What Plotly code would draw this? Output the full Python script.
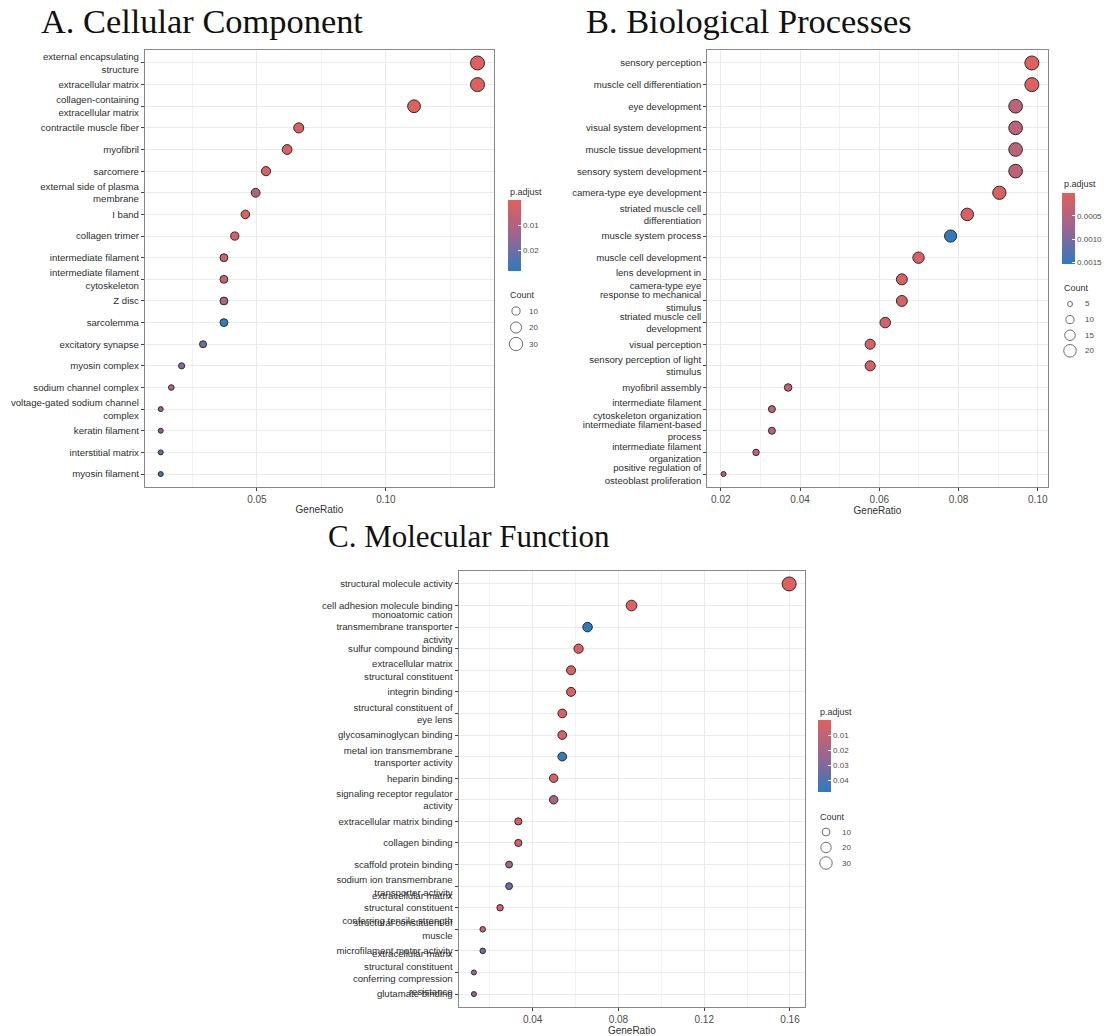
import numpy as np
import plotly.graph_objects as go

W, H = 1110, 1036

# ---------------- Data ----------------
# A. Cellular Component
cc_terms = [
    "external encapsulating<br>structure", "extracellular matrix",
    "collagen-containing<br>extracellular matrix", "contractile muscle fiber",
    "myofibril", "sarcomere", "external side of plasma<br>membrane", "I band",
    "collagen trimer", "intermediate filament", "intermediate filament<br>cytoskeleton",
    "Z disc", "sarcolemma", "excitatory synapse", "myosin complex",
    "sodium channel complex", "voltage-gated sodium channel<br>complex",
    "keratin filament", "interstitial matrix", "myosin filament"]
cc_ratio = [0.1355, 0.1355, 0.1109, 0.0662, 0.0617, 0.0535, 0.0495, 0.0455, 0.0414, 0.0372,
            0.0372, 0.0372, 0.0372, 0.0291, 0.0208, 0.0168, 0.0127, 0.0127, 0.0127, 0.0127]
cc_count = [33, 33, 27, 16, 15, 13, 12, 11, 10, 9, 9, 9, 9, 7, 5, 4, 3, 3, 3, 3]
cc_padj = [0.00001, 0.00001, 0.00002, 0.0008, 0.0010, 0.0015, 0.0105, 0.0012, 0.0025, 0.0030,
           0.0035, 0.0100, 0.0281, 0.0210, 0.0160, 0.0105, 0.0150, 0.0150, 0.0260, 0.0255]
cc_count_breaks = [10, 20, 30]
cc_padj_ticks = [0.01, 0.02]

# B. Biological Processes
bp_terms = [
    "sensory perception", "muscle cell differentiation", "eye development",
    "visual system development", "muscle tissue development", "sensory system development",
    "camera-type eye development", "striated muscle cell<br>differentiation",
    "muscle system process", "muscle cell development",
    "lens development in<br>camera-type eye", "response to mechanical<br>stimulus",
    "striated muscle cell<br>development", "visual perception",
    "sensory perception of light<br>stimulus", "myofibril assembly",
    "intermediate filament<br>cytoskeleton organization",
    "intermediate filament-based<br>process", "intermediate filament<br>organization",
    "positive regulation of<br>osteoblast proliferation"]
bp_ratio = [0.0985, 0.0985, 0.0944, 0.0944, 0.0944, 0.0944, 0.0903, 0.0822, 0.0780, 0.0699,
            0.0657, 0.0657, 0.0615, 0.0577, 0.0577, 0.0370, 0.0329, 0.0329, 0.0289, 0.0207]
bp_count = [24, 24, 23, 23, 23, 23, 22, 20, 19, 17, 16, 16, 15, 14, 14, 9, 8, 8, 7, 5]
bp_padj = [0.00001, 0.00002, 0.00040, 0.00040, 0.00040, 0.00040, 0.00010, 0.00008, 0.00153, 0.00008,
           0.00010, 0.00012, 0.00015, 0.00010, 0.00012, 0.00030, 0.00040, 0.00040, 0.00020, 0.00045]
bp_count_breaks = [5, 10, 15, 20]
bp_padj_ticks = [0.0005, 0.0010, 0.0015]

# C. Molecular Function
mf_terms = [
    "structural molecule activity", "cell adhesion molecule binding",
    "monoatomic cation<br>transmembrane transporter<br>activity", "sulfur compound binding",
    "extracellular matrix<br>structural constituent", "integrin binding",
    "structural constituent of<br>eye lens", "glycosaminoglycan binding",
    "metal ion transmembrane<br>transporter activity", "heparin binding",
    "signaling receptor regulator<br>activity", "extracellular matrix binding",
    "collagen binding", "scaffold protein binding",
    "sodium ion transmembrane<br>transporter activity",
    "extracellular matrix<br>structural constituent<br>conferring tensile strength",
    "structural constituent of<br>muscle", "microfilament motor activity",
    "extracellular matrix<br>structural constituent<br>conferring compression<br>resistance",
    "glutamate binding"]
mf_ratio = [0.1596, 0.0861, 0.0656, 0.0614, 0.0579, 0.0579, 0.0538, 0.0538, 0.0538, 0.0498,
            0.0498, 0.0333, 0.0333, 0.0290, 0.0290, 0.0248, 0.0167, 0.0167, 0.0126, 0.0126]
mf_count = [39, 21, 16, 15, 14, 14, 13, 13, 13, 12, 12, 8, 8, 7, 7, 6, 4, 4, 3, 3]
mf_padj = [0.000001, 0.0005, 0.0480, 0.0020, 0.0010, 0.0020, 0.0020, 0.0030, 0.0470, 0.0030,
           0.0200, 0.0040, 0.0040, 0.0200, 0.0350, 0.0020, 0.0060, 0.0340, 0.0240, 0.0240]
mf_count_breaks = [10, 20, 30]
mf_padj_ticks = [0.01, 0.02, 0.03, 0.04]

# ---------------- Styling helpers ----------------
FONT = "Liberation Sans, Arial, sans-serif"
SERIF = "Liberation Serif, Times New Roman, serif"
COLORSCALE = [[0.0, "#2E7BBF"], [0.5, "#9A6590"], [1.0, "#E0605E"]]


def fx(px):
    return px / W


def fy(py):
    return 1 - py / H


def dot_size(counts, lo, hi, dmin=5.0, dmax=14.0):
    s = np.sqrt(np.asarray(counts, float))
    return (dmin + (s - np.sqrt(lo)) / (np.sqrt(hi) - np.sqrt(lo)) * (dmax - dmin)).tolist()


fig = go.Figure()
layout = dict(
    width=W, height=H, margin=dict(l=0, r=0, t=0, b=0),
    paper_bgcolor="white", plot_bgcolor="white", showlegend=False,
    font=dict(family=FONT, color="#333333"),
    annotations=[],
)

panels = [
    dict(terms=cc_terms, ratio=cc_ratio, count=cc_count, padj=cc_padj, breaks=cc_count_breaks,
         ticks=cc_padj_ticks, tfmt="{:.2f}", xdom=(145, 494), ydom=(50, 487), xr=[0.0066, 0.1419],
         dtick=0.05, minor=0.025, cbx=508, cby=(200, 271), ptitle_y=192,
         ltitle_y=295, litem_y=311, lstep=16.5, lcx=516, llx=527),
    dict(terms=bp_terms, ratio=bp_ratio, count=bp_count, padj=bp_padj, breaks=bp_count_breaks,
         ticks=bp_padj_ticks, tfmt="{:.4f}", xdom=(707.3, 1047.7), ydom=(50, 487), xr=[0.0166, 0.1025],
         dtick=0.02, minor=0.01, cbx=1062, cby=(193, 264), ptitle_y=184,
         ltitle_y=288, litem_y=304, lstep=15.6, lcx=1070, llx=1083),
    dict(terms=mf_terms, ratio=mf_ratio, count=mf_count, padj=mf_padj, breaks=mf_count_breaks,
         ticks=mf_padj_ticks, tfmt="{:.2f}", xdom=(458.7, 805), ydom=(571, 1007), xr=[0.0055, 0.167],
         dtick=0.04, minor=0.02, cbx=818, cby=(720, 792), ptitle_y=712,
         ltitle_y=817, litem_y=832, lstep=15.5, lcx=826, llx=840),
]

for i, p in enumerate(panels, start=1):
    sfx = "" if i == 1 else str(i)
    lo, hi = min(p["count"]), max(p["count"])
    n = len(p["terms"])
    cax = "coloraxis" + sfx
    fig.add_trace(go.Scatter(
        x=p["ratio"], y=p["terms"], mode="markers", xaxis="x" + sfx, yaxis="y" + sfx,
        marker=dict(size=dot_size(p["count"], lo, hi), color=[-v for v in p["padj"]],
                    coloraxis=cax, line=dict(color="#2B2B2B", width=1), opacity=1),
    ))
    layout["xaxis" + sfx] = dict(
        domain=[fx(p["xdom"][0]), fx(p["xdom"][1])], range=p["xr"], anchor="y" + sfx,
        tick0=0, dtick=p["dtick"], tickformat=".2f", showgrid=True, gridcolor="#EBEBEB", gridwidth=1,
        minor=dict(tick0=0, dtick=p["minor"], showgrid=True, gridcolor="#F3F3F3", gridwidth=0.7),
        showline=True, mirror=True, linecolor="#888888", linewidth=1.3,
        ticks="outside", ticklen=3, tickcolor="#444444", tickwidth=1,
        tickfont=dict(size=10, color="#4D4D4D", family=FONT), zeroline=False,
        title=dict(text="GeneRatio", font=dict(size=10, color="#333333", family=FONT), standoff=1),
    )
    layout["yaxis" + sfx] = dict(
        domain=[fy(p["ydom"][1]), fy(p["ydom"][0])], anchor="x" + sfx, type="category",
        categoryorder="array", categoryarray=p["terms"], range=[n - 1 + 0.6, -0.6],
        showgrid=True, gridcolor="#EBEBEB", gridwidth=1,
        showline=True, mirror=True, linecolor="#888888", linewidth=1.3,
        ticks="outside", ticklen=3, tickcolor="#444444", tickwidth=1,
        tickfont=dict(size=9.6, color="#2E2E2E", family=FONT), zeroline=False,
    )
    pmin, pmax = min(p["padj"]), max(p["padj"])
    layout[cax] = dict(
        cmin=-pmax, cmax=-pmin, colorscale=COLORSCALE,
        colorbar=dict(
            x=fx(p["cbx"]), xanchor="left", y=fy((p["cby"][0] + p["cby"][1]) / 2), yanchor="middle",
            len=p["cby"][1] - p["cby"][0], lenmode="pixels", thickness=13, thicknessmode="pixels",
            outlinewidth=0, xpad=0, ypad=0, ticks="inside", ticklen=3, tickcolor="white", tickwidth=1,
            tickvals=[-t for t in p["ticks"]], ticktext=[p["tfmt"].format(t) for t in p["ticks"]],
            tickfont=dict(size=8, color="#4D4D4D", family=FONT),
        ),
    )
    layout["annotations"].append(dict(
        text="p.adjust", xref="paper", yref="paper", x=fx(p["cbx"]), y=fy(p["ptitle_y"]),
        xanchor="left", yanchor="middle", showarrow=False, font=dict(size=9, color="#333333", family=FONT)))
    layout["annotations"].append(dict(
        text="Count", xref="paper", yref="paper", x=fx(p["cbx"]), y=fy(p["ltitle_y"]),
        xanchor="left", yanchor="middle", showarrow=False, font=dict(size=9, color="#333333", family=FONT)))

    # Count size legend on a hidden axis
    k = len(p["breaks"])
    lx = "x" + str(i + 3)
    ly = "y" + str(i + 3)
    top = p["litem_y"] - p["lstep"] / 2
    bot = top + p["lstep"] * k
    layout["xaxis" + str(i + 3)] = dict(domain=[fx(p["lcx"] - 10), fx(p["lcx"] + 10)], range=[-1, 1],
                                        visible=False, anchor=ly, fixedrange=True)
    layout["yaxis" + str(i + 3)] = dict(domain=[fy(bot), fy(top)], range=[k - 0.5, -0.5],
                                        visible=False, anchor=lx, fixedrange=True)
    fig.add_trace(go.Scatter(
        x=[0] * k, y=list(range(k)), mode="markers", xaxis=lx, yaxis=ly, hoverinfo="skip",
        marker=dict(size=dot_size(p["breaks"], lo, hi), color="white",
                    line=dict(color="#333333", width=1)),
    ))
    for j, b in enumerate(p["breaks"]):
        layout["annotations"].append(dict(
            text=str(b), xref="paper", yref=ly, x=fx(p["llx"]), y=j, xanchor="left", yanchor="middle",
            showarrow=False, font=dict(size=8, color="#4D4D4D", family=FONT)))

# Panel titles
for txt, x, y, sz in [("A. Cellular Component", 39, 21, 34.4), ("B. Biological Processes", 584, 21, 34.4),
                      ("C. Molecular Function", 326, 536, 31)]:
    layout["annotations"].append(dict(
        text=txt, xref="paper", yref="paper", x=fx(x), y=fy(y), xanchor="left", yanchor="middle",
        showarrow=False, font=dict(size=sz, color="#111111", family=SERIF)))

fig.update_layout(**layout)
fig.write_html("out.html")
